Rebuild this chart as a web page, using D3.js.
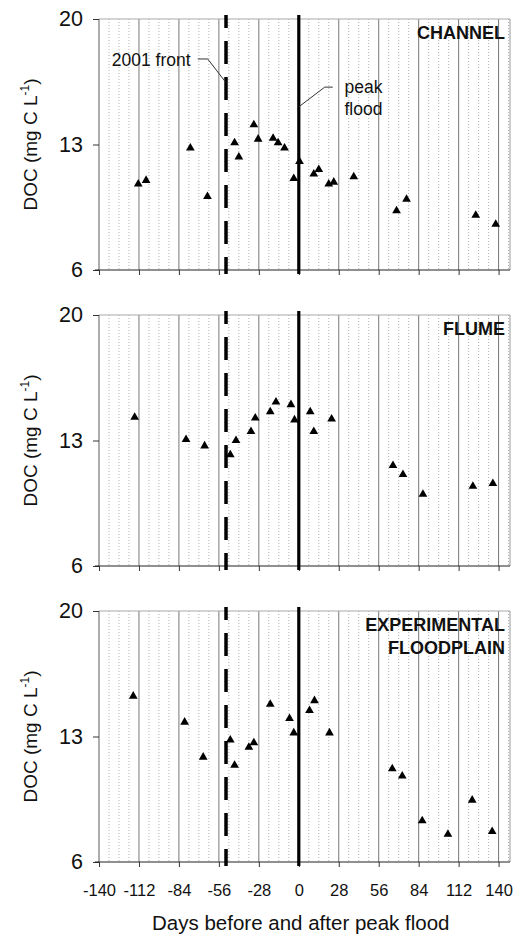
<!DOCTYPE html>
<html>
<head>
<meta charset="utf-8">
<script src="https://cdn.jsdelivr.net/npm/d3@7"></script>
<style>
  body { margin: 0; background: #fff; }
  svg { display: block; font-family: "Liberation Sans", Arial, sans-serif; }
</style>
</head>
<body>
<script>
/** chart values */
const dayTicks = [-140, -112, -84, -56, -28, 0, 28, 56, 84, 112, 140];
const docTicks = [6, 13, 20];
const panelNames = [["CHANNEL"], ["FLUME"], ["EXPERIMENTAL", "FLOODPLAIN"]];

const channelDays = [-112.5, -107, -76, -64, -45, -42, -31.5, -28.5, -18, -14.5, -10, -3.5, 0.5, 10.5, 14, 21, 24.5, 38.5, 68.5, 75.5, 124, 138];
const channelDoc = [10.8, 11.0, 12.8, 10.1, 13.1, 12.3, 14.1, 13.3, 13.35, 13.1, 12.8, 11.1, 12.05, 11.35, 11.6, 10.8, 10.9, 11.2, 9.3, 9.95, 9.05, 8.55];

const flumeDays = [-115, -79, -66, -48, -44, -33.5, -30.5, -20, -16, -5.5, -3, 8, 10.5, 23, 66, 73, 87, 122, 136];
const flumeDoc = [14.3, 13.05, 12.7, 12.2, 13.0, 13.5, 14.25, 14.6, 15.15, 15.0, 14.15, 14.6, 13.5, 14.2, 11.6, 11.1, 10.0, 10.45, 10.6];

const floodplainDays = [-116, -80, -67, -48, -45, -35, -31.5, -20, -6.5, -3.5, 7.5, 11, 21.5, 65.5, 72.5, 86.5, 104.5, 121.5, 135.5];
const floodplainDoc = [15.25, 13.8, 11.85, 12.8, 11.4, 12.4, 12.65, 14.8, 14.0, 13.2, 14.45, 15.0, 13.2, 11.2, 10.8, 8.3, 7.55, 9.45, 7.7];

const frontDay = -51;   // 2001 front
const peakDay = 0;      // peak flood

/** layout */
const width = 513;
const height = 937;
const left = 99;
const right = 510;
const panelTops = [19, 315, 611];
const panelHeight = 251;
const FONT = "Liberation Sans, Arial, sans-serif";

const series = [
    { days: channelDays, doc: channelDoc },
    { days: flumeDays, doc: flumeDoc },
    { days: floodplainDays, doc: floodplainDoc }
];

const svg = d3.select("body").append("svg")
    .attr("width", width)
    .attr("height", height);

const x_scale = d3.scaleLinear().domain([-140, 148]).range([left, right]);

// gridline days: every 7 days dotted, every 28 solid
const dotDays = d3.range(-133, 148, 7).filter(d => d % 28 !== 0);
const solidDays = dayTicks.filter(d => d !== -140 && d !== 0);

series.forEach((s, i) => {
    const top = panelTops[i];
    const bottom = top + panelHeight;
    const y_scale = d3.scaleLinear().domain([6, 20]).range([bottom, top]);
    const g = svg.append("g");

    // dotted gridlines
    g.selectAll(".dot-grid")
        .data(dotDays)
        .enter().append("line")
        .attr("x1", d => x_scale(d)).attr("x2", d => x_scale(d))
        .attr("y1", top).attr("y2", bottom)
        .attr("stroke", "#9a9a9a")
        .attr("stroke-width", 0.8)
        .attr("stroke-dasharray", "1,2");

    // solid gridlines
    g.selectAll(".solid-grid")
        .data(solidDays)
        .enter().append("line")
        .attr("x1", d => x_scale(d)).attr("x2", d => x_scale(d))
        .attr("y1", top).attr("y2", bottom)
        .attr("stroke", "#777")
        .attr("stroke-width", 1);

    // frame: top & right light, left gray
    g.append("line").attr("x1", left).attr("x2", right).attr("y1", top).attr("y2", top)
        .attr("stroke", "#aaa").attr("stroke-width", 1.2);
    g.append("line").attr("x1", right).attr("x2", right).attr("y1", top).attr("y2", bottom)
        .attr("stroke", "#aaa").attr("stroke-width", 1.2);
    g.append("line").attr("x1", left).attr("x2", left).attr("y1", top).attr("y2", bottom)
        .attr("stroke", "#777").attr("stroke-width", 1.2);

    // y axis ticks + labels
    const y_axis = d3.axisLeft(y_scale).tickValues(docTicks).tickSize(6).tickPadding(10);
    const ya = g.append("g").attr("transform", "translate(" + left + ",0)").call(y_axis);
    ya.select(".domain").remove();
    ya.selectAll("line").attr("stroke", "#333");
    ya.selectAll("text").attr("font-size", 21.5).attr("fill", "#111")
        .attr("font-family", FONT);

    // x axis line + ticks
    const x_axis = d3.axisBottom(x_scale).tickValues(dayTicks).tickSize(5).tickPadding(17);
    const xa = g.append("g").attr("transform", "translate(0," + bottom + ")").call(x_axis);
    xa.select(".domain").attr("d", "M" + (left - 4) + ",0H" + right).attr("stroke", "#222").attr("stroke-width", 1.2);
    xa.selectAll("line").attr("stroke", "#333");
    xa.selectAll("text").attr("font-size", 16.5).attr("fill", "#111")
        .attr("font-family", FONT)
        .text(d => i === 2 ? (d < 0 ? "-" + Math.abs(d) : d) : "");

    // 2001 front dashed line
    g.append("line")
        .attr("x1", x_scale(frontDay)).attr("x2", x_scale(frontDay))
        .attr("y1", top - 4).attr("y2", bottom + 4)
        .attr("stroke", "#000").attr("stroke-width", 3.5)
        .attr("stroke-dasharray", "23,13")
        .attr("stroke-dashoffset", 10);

    // peak flood line
    g.append("line")
        .attr("x1", x_scale(peakDay)).attr("x2", x_scale(peakDay))
        .attr("y1", top - 4).attr("y2", bottom + 4)
        .attr("stroke", "#000").attr("stroke-width", 3.2);

    // triangles
    const pts = s.days.map((d, k) => ({ day: d, doc: s.doc[k] }));
    g.selectAll(".pt")
        .data(pts)
        .enter().append("path")
        .attr("d", d3.symbol().type(d3.symbolTriangle).size(33))
        .attr("transform", d => "translate(" + x_scale(d.day) + "," + y_scale(d.doc) + ")")
        .attr("fill", "#000");

    // panel label
    const lab = g.append("text")
        .attr("text-anchor", "end")
        .attr("font-weight", "bold")
        .attr("font-size", 18)
        .attr("fill", "#111");
    panelNames[i].forEach((t, k) => {
        lab.append("tspan").attr("x", right - 5)
            .attr("y", top + 20 + k * 23)
            .text(t);
    });

    // y label
    const yl = g.append("text")
        .attr("transform", "translate(37," + (top + panelHeight / 2) + ") rotate(-90)")
        .attr("text-anchor", "middle")
        .attr("font-size", 19)
        .attr("fill", "#111");
    yl.append("tspan").text("DOC (mg C L");
    yl.append("tspan").attr("font-size", 12).attr("dy", -8).text("-1");
    yl.append("tspan").attr("dy", 8).text(")");

    // annotations on first panel
    if (i === 0) {
        const lead = d3.line().x(d => x_scale(d[0])).y(d => y_scale(d[1]));
        g.append("path")
            .attr("d", lead([[-70.8, 17.77], [-63.8, 17.77], [frontDay, 16.45]]))
            .attr("fill", "none").attr("stroke", "#333").attr("stroke-width", 1);
        g.append("text")
            .attr("x", x_scale(-75.8)).attr("y", y_scale(17.4))
            .attr("text-anchor", "end").attr("font-size", 17.5).attr("fill", "#111")
            .text("2001 front");

        g.append("path")
            .attr("d", lead([[23.8, 16.2], [18.2, 16.2], [peakDay, 15.1]]))
            .attr("fill", "none").attr("stroke", "#333").attr("stroke-width", 1);
        g.append("text")
            .attr("x", x_scale(32)).attr("y", y_scale(15.87))
            .attr("font-size", 17.5).attr("fill", "#111")
            .text("peak");
        g.append("text")
            .attr("x", x_scale(32)).attr("y", y_scale(14.65))
            .attr("font-size", 17.5).attr("fill", "#111")
            .text("flood");
    }
});

// x label
svg.append("text")
    .attr("x", x_scale(0) + 2)
    .attr("y", 930)
    .attr("text-anchor", "middle")
    .attr("font-size", 20.5)
    .attr("fill", "#111")
    .text("Days before and after peak flood");
</script>
</body>
</html>
